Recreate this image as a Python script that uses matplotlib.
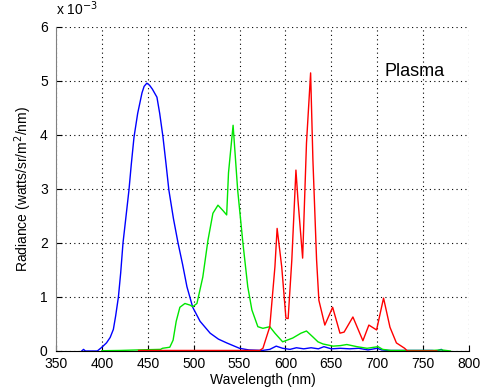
import matplotlib
matplotlib.use("Agg")
import matplotlib.pyplot as plt

plt.rcParams['font.family'] = ['Liberation Sans', 'DejaVu Sans']

# Blue channel (wavelength nm, radiance x1e-3)
blue_x = [378, 380, 382, 395, 400, 405, 409, 412.5, 415, 418, 420.5, 423, 426, 429.5, 432, 435, 439,
          443.7, 446, 449, 452, 455, 460, 463, 466.6, 470, 473, 478, 483, 488, 492.7, 499, 507, 518,
          527, 536, 550, 560, 575, 583, 590, 597, 605, 612, 620, 628, 636,
          642, 650, 660, 670, 680, 690, 700, 705, 712, 720, 740, 760, 765, 770, 772, 775]
blue_y = [0, 0.03, 0, 0, 0.07, 0.15, 0.25, 0.4, 0.65, 1.0, 1.45, 2.0, 2.45, 2.98, 3.45, 3.96, 4.4,
          4.78, 4.9, 4.96, 4.92, 4.85, 4.7, 4.4, 3.96, 3.45, 2.98, 2.45, 2.0, 1.6, 1.19, 0.81, 0.55, 0.33,
          0.22, 0.15, 0.05, 0.02, 0.01, 0.03, 0.09, 0.05, 0.03, 0.06, 0.04,
          0.06, 0.04, 0.08, 0.04, 0.05, 0.04, 0.05, 0.02, 0.05, 0.02, 0.01, 0.01, 0.01, 0.01, 0, 0.03, 0, 0]

# Green channel
green_x = [400, 420, 440, 464, 466, 474, 477.6, 481, 485, 490.5, 496, 499, 503.6, 510, 515.6, 521, 526.5,
           532, 536, 538, 543, 548, 553.7, 559, 563.5, 570, 575.5, 583, 588.6, 597, 608, 617, 623,
           630, 635.5, 641, 652, 660, 667, 678, 689, 701, 706, 715, 740, 760, 770, 780]
green_y = [0.005, 0.01, 0.02, 0.03, 0.05, 0.07, 0.2, 0.55, 0.81, 0.88, 0.85, 0.82, 0.88, 1.37, 2.05, 2.55,
           2.70, 2.6, 2.52, 3.3, 4.18, 2.98, 2.0, 1.19, 0.76, 0.45, 0.42, 0.45, 0.33, 0.17, 0.24, 0.33,
           0.37, 0.26, 0.17, 0.13, 0.09, 0.1, 0.12, 0.08, 0.05, 0.08, 0.03, 0.01, 0.01, 0.01, 0.02, 0.0]

# Red channel
red_x = [440, 500, 560, 572, 575.5, 583, 588.6, 591, 596, 600.6, 603, 607, 611.5, 613.7, 618.8, 623,
         627.5, 630, 634, 636.5, 643, 651.5, 659.5, 664, 673.6, 684.5, 691, 699.4, 707, 714, 721, 730, 733,
         760, 765]
red_y = [0.01, 0.01, 0.01, 0.01, 0.05, 0.45, 1.56, 2.27, 1.56, 0.61, 0.6, 1.68, 3.35, 2.8, 1.72, 3.85,
         5.15, 3.54, 1.69, 0.94, 0.48, 0.81, 0.33, 0.35, 0.63, 0.19, 0.48, 0.39, 0.98, 0.44, 0.15, 0.05, 0.0,
         0.0, 0.0]

x_ticks = [350, 400, 450, 500, 550, 600, 650, 700, 750, 800]
y_ticks = [0, 1, 2, 3, 4, 5, 6]

fig = plt.figure(figsize=(5.02, 3.89), dpi=100)
ax = fig.add_axes([0.1116, 0.0977, 0.8224, 0.8329])

ax.plot(blue_x, blue_y, color='#0000ff', lw=1.0)
ax.plot(green_x, green_y, color='#00e600', lw=1.0)
ax.plot(red_x, red_y, color='#ff0000', lw=1.0)

ax.set_xlim(350, 800)
ax.set_ylim(0, 6)
ax.set_xticks(x_ticks)
ax.set_yticks(y_ticks)
ax.set_xticklabels([str(v) for v in x_ticks], fontsize=10)
ax.set_yticklabels([str(v) for v in y_ticks], fontsize=10)
ax.tick_params(direction='in', length=4, width=0.8)
ax.tick_params(axis='x', pad=4)
ax.tick_params(axis='y', pad=6)
ax.grid(True, linestyle=(0, (1, 3)), color='black', lw=0.8)
for s in ['top', 'right']:
    ax.spines[s].set_visible(False)
ax.spines['left'].set_color('#808080')
ax.spines['bottom'].set_color('black')

ax.set_xlabel('Wavelength (nm)', fontsize=10, labelpad=2)
ax.set_ylabel('Radiance (watts/sr/m$^2$/nm)', fontsize=10, labelpad=4)
fig.text(0.112, 0.955, r'x 10$^{-3}$', fontsize=10, ha='left', va='bottom')
ax.text(741, 5.17, 'Plasma', fontsize=13, ha='center', va='center')

fig.savefig('out.png', dpi=100)
